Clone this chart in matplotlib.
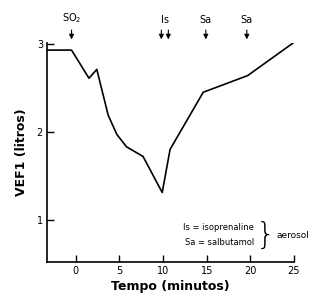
import matplotlib
matplotlib.use('Agg')
import matplotlib.pyplot as plt

# curva do VEF1
tempo = [-3.3, -0.5, 1.5, 2.4, 3.7, 4.7, 5.8, 7.7, 9.9, 10.8, 14.6, 19.7, 24.9]
vef1 = [2.93, 2.93, 2.61, 2.71, 2.19, 1.97, 1.83, 1.72, 1.31, 1.80, 2.45, 2.64, 3.01]

# setas das doses
dose_x = [-0.5, 9.8, 10.6, 14.9, 19.6]
dose_label = ['SO$_2$', 'Is', '', 'Sa', 'Sa']
label_x = [-0.5, 10.2, None, 14.9, 19.6]

xticks = [0, 5, 10, 15, 20, 25]
yticks = [1, 2, 3]

fig = plt.figure(figsize=(3.1, 2.99), dpi=100)
ax = fig.add_axes([0.152, 0.124, 0.796, 0.732])
ax.plot(tempo, vef1, color='black', lw=1.2)

ax.set_xlim(-3.3, 25)
ax.set_ylim(0.52, 3.01)
ax.set_xticks(xticks)
ax.set_yticks(yticks)
ax.tick_params(direction='in', length=5, width=1, labelsize=7, pad=3)
ax.spines['top'].set_visible(False)
ax.spines['right'].set_visible(False)
for s in ['left', 'bottom']:
    ax.spines[s].set_linewidth(1.2)

for xd in dose_x:
    ax.annotate('', xy=(xd, 3.02), xytext=(xd, 3.19), xycoords='data',
                arrowprops=dict(arrowstyle='-|>', color='black', lw=0.8,
                                mutation_scale=7), annotation_clip=False)
for lab, xl in zip(dose_label, label_x):
    if lab:
        ax.text(xl, 3.22, lab, ha='center', va='bottom', fontsize=7, clip_on=False)

ax.text(20.4, 0.91, 'Is = isoprenaline', ha='right', va='center', fontsize=6)
ax.text(20.4, 0.74, 'Sa = salbutamol', ha='right', va='center', fontsize=6)
ax.text(20.6, 0.82, '}', ha='left', va='center', fontsize=22, fontweight='light')
ax.text(23.0, 0.82, 'aerosol', ha='left', va='center', fontsize=6.5, clip_on=False)

ax.set_xlabel('Tempo (minutos)', fontsize=9, fontweight='bold', labelpad=3)
ax.set_ylabel('VEF1 (litros)', fontsize=9, fontweight='bold', labelpad=6)

fig.savefig('out.png', dpi=100)
